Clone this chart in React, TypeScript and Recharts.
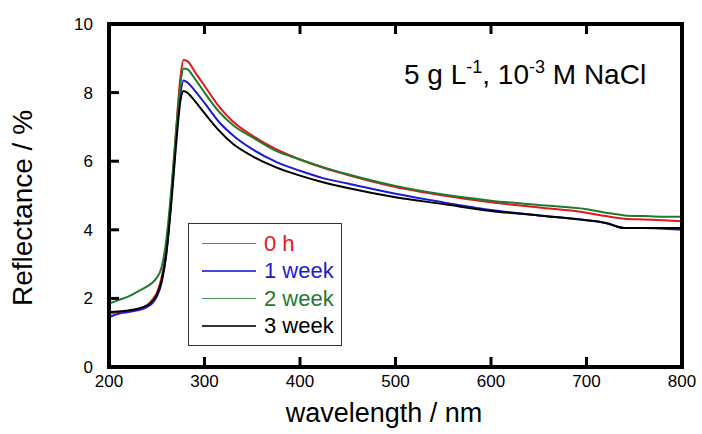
import React from "react";
import { LineChart, Line, XAxis, YAxis } from "recharts";

// wavelength (nm) and reflectance (%)
const wavelength = [
  200, 210, 220, 230, 240, 245, 250, 255, 260, 265, 270, 275, 278, 282, 290,
  300, 315, 330, 350, 375, 400, 425, 450, 500, 550, 600, 650, 700, 720, 740,
  760, 780, 800,
];
const hour0 = [
  1.55, 1.6, 1.62, 1.68, 1.8, 1.95, 2.15, 2.6, 3.4, 4.9, 6.8, 8.5, 8.95, 8.92,
  8.6, 8.2, 7.6, 7.15, 6.75, 6.35, 6.05, 5.8, 5.6, 5.25, 5.0, 4.8, 4.65, 4.5,
  4.4, 4.32, 4.3, 4.28, 4.25,
];
const week1 = [
  1.45, 1.55, 1.6, 1.65, 1.75, 1.85, 2.05, 2.45, 3.3, 4.8, 6.6, 8.0, 8.35, 8.3,
  8.05, 7.7, 7.15, 6.75, 6.35, 5.98, 5.72, 5.5, 5.35, 5.05, 4.8, 4.58, 4.42,
  4.28, 4.2, 4.05, 4.05, 4.03, 4.0,
];
const week2 = [
  1.85, 1.95, 2.05, 2.2, 2.35, 2.45, 2.6, 2.9, 3.7, 5.1, 6.8, 8.3, 8.7, 8.68,
  8.4, 8.0, 7.45, 7.05, 6.7, 6.3, 6.05, 5.82, 5.62, 5.28, 5.03, 4.85, 4.72,
  4.6, 4.5, 4.42, 4.4, 4.38, 4.38,
];
const week3 = [
  1.6, 1.62, 1.65, 1.7, 1.8, 1.9, 2.1, 2.5, 3.3, 4.7, 6.4, 7.8, 8.05, 8.0,
  7.75, 7.4, 6.9, 6.5, 6.15, 5.82, 5.58, 5.38, 5.22, 4.95, 4.75, 4.55, 4.42,
  4.28, 4.2, 4.05, 4.05, 4.05, 4.05,
];
const xTicks = [200, 300, 400, 500, 600, 700, 800];
const yTicks = [0, 2, 4, 6, 8, 10];

const series = [
  { key: "h0", name: "0 h", color: "#e3161b", values: hour0 },
  { key: "w1", name: "1 week", color: "#1b1bd0", values: week1 },
  { key: "w2", name: "2 week", color: "#1f7a30", values: week2 },
  { key: "w3", name: "3 week", color: "#000000", values: week3 },
];

const data = wavelength.map((wl, i) => {
  const row: any = { wl };
  series.forEach((s) => (row[s.key] = s.values[i]));
  return row;
});

const FONT = "'Liberation Sans', Arial, sans-serif";
const TICK_LEN = 10;
const TICK_W = 3;

const BottomTick = (props: any) => {
  const { x, y, payload } = props;
  return (
    <g>
      <line x1={x} x2={x} y1={y} y2={y - TICK_LEN} stroke="#000" strokeWidth={TICK_W} />
      <text x={x} y={y + 20} textAnchor="middle" fontSize={17} fill="#000" fontFamily={FONT}>
        {payload.value}
      </text>
    </g>
  );
};
const TopTick = (props: any) => {
  const { x, y } = props;
  return <line x1={x} x2={x} y1={y} y2={y + TICK_LEN} stroke="#000" strokeWidth={TICK_W} />;
};
const LeftTick = (props: any) => {
  const { x, y, payload } = props;
  return (
    <g>
      <line x1={x} x2={x + TICK_LEN} y1={y} y2={y} stroke="#000" strokeWidth={TICK_W} />
      <text x={x - 16} y={y} dy={6} textAnchor="end" fontSize={17} fill="#000" fontFamily={FONT}>
        {payload.value}
      </text>
    </g>
  );
};
const RightTick = (props: any) => {
  const { x, y } = props;
  return <line x1={x} x2={x - TICK_LEN} y1={y} y2={y} stroke="#000" strokeWidth={TICK_W} />;
};

const LegendBox = () => (
  <div
    style={{
      position: "absolute",
      left: 188,
      top: 223,
      width: 152,
      height: 121,
      border: "1.5px solid #333",
      background: "#fff",
      fontFamily: FONT,
    }}
  >
    {series.map((s, i) => (
      <div
        key={s.key}
        style={{
          position: "absolute",
          left: 0,
          top: 6 + i * 27.5,
          height: 27,
          display: "flex",
          alignItems: "center",
        }}
      >
        <div style={{ marginLeft: 13, width: 54, height: 1.5, background: s.color, opacity: 0.8 }} />
        <span style={{ marginLeft: 8, fontSize: 22, color: s.color }}>{s.name}</span>
      </div>
    ))}
  </div>
);

const axisLine = { stroke: "#000", strokeWidth: 4, strokeLinecap: "square" as const };

export default function App() {
  return (
    <div style={{ position: "absolute", left: 0, top: 0, width: 702, height: 434, background: "#fff" }}>
      <LineChart
        width={702}
        height={434}
        data={data}
        margin={{ top: 23, right: 19, bottom: 66, left: 108 }}
      >
        {series.map((s) => (
          <Line
            key={s.key}
            dataKey={s.key}
            name={s.name}
            type="monotone"
            stroke={s.color}
            strokeWidth={2}
            dot={false}
            isAnimationActive={false}
          />
        ))}
        <XAxis
          dataKey="wl"
          type="number"
          domain={[200, 800]}
          ticks={xTicks}
          height={1}
          tickSize={0}
          tickMargin={0}
          tickLine={false}
          axisLine={axisLine}
          tick={<BottomTick />}
          interval={0}
        />
        <XAxis
          xAxisId="top"
          orientation="top"
          dataKey="wl"
          type="number"
          domain={[200, 800]}
          ticks={xTicks}
          height={1}
          tickSize={0}
          tickMargin={0}
          tickLine={false}
          axisLine={axisLine}
          tick={<TopTick />}
          interval={0}
        />
        <YAxis
          type="number"
          domain={[0, 10]}
          ticks={yTicks}
          width={1}
          tickSize={0}
          tickMargin={0}
          tickLine={false}
          axisLine={axisLine}
          tick={<LeftTick />}
          interval={0}
        />
        <YAxis
          yAxisId="right"
          orientation="right"
          type="number"
          domain={[0, 10]}
          ticks={yTicks}
          width={1}
          tickSize={0}
          tickMargin={0}
          tickLine={false}
          axisLine={axisLine}
          tick={<RightTick />}
          interval={0}
        />
        <text x={404} y={84} fontSize={28} fill="#000" fontFamily={FONT}>
          5 g L
          <tspan dy={-11} fontSize={18}>-1</tspan>
          <tspan dy={11}>, 10</tspan>
          <tspan dy={-11} fontSize={18}>-3</tspan>
          <tspan dy={11}> M NaCl</tspan>
        </text>
        <text x={384} y={422} textAnchor="middle" fontSize={27} fill="#000" fontFamily={FONT}>
          wavelength / nm
        </text>
        <text
          x={32}
          y={208}
          textAnchor="middle"
          fontSize={28}
          fill="#000"
          fontFamily={FONT}
          transform="rotate(-90 32 208)"
        >
          Reflectance / %
        </text>
      </LineChart>
      <LegendBox />
    </div>
  );
}
